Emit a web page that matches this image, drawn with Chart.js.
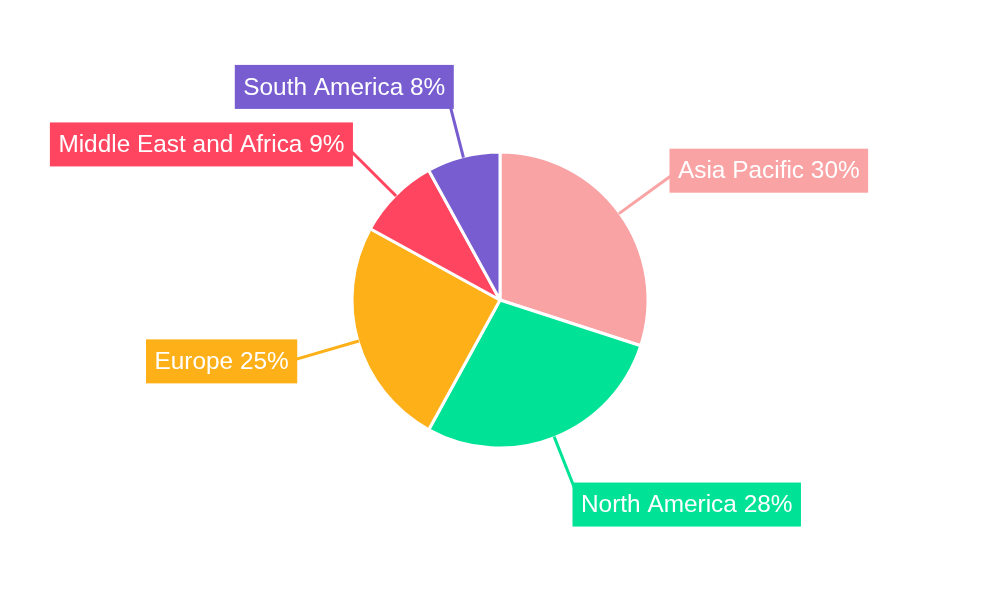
<!DOCTYPE html>
<html>
<head>
<meta charset="utf-8">
<script src="https://cdn.jsdelivr.net/npm/chart.js@4/dist/chart.umd.min.js"></script>
<style>
  html, body { margin: 0; padding: 0; background: #ffffff; }
  #wrap { width: 1000px; height: 600px; position: relative; }
</style>
</head>
<body>
<div id="wrap"><canvas id="c" width="1000" height="600"></canvas></div>
<script>
const regions = ['Asia Pacific', 'North America', 'Europe', 'Middle East and Africa', 'South America'];
const shares = [30, 28, 25, 9, 8];
const sliceColors = ['#F9A3A4', '#00E396', '#FEB019', '#FF4560', '#775DD0'];

const calloutPlugin = {
  id: 'callouts',
  afterDatasetsDraw(chart) {
    const ctx = chart.ctx;
    const meta = chart.getDatasetMeta(0);
    const data = chart.data.datasets[0].data;
    const labels = chart.data.labels;
    const colors = chart.data.datasets[0].backgroundColor;
    ctx.save();
    ctx.font = '24.4px "Liberation Sans", Arial, sans-serif';
    ctx.textBaseline = 'middle';
    const items = meta.data.map((arc, i) => {
      const p = arc.getProps(['x', 'y', 'startAngle', 'endAngle', 'outerRadius'], true);
      const mid = (p.startAngle + p.endAngle) / 2;
      const dx = Math.cos(mid), dy = Math.sin(mid);
      const r1 = p.outerRadius - 1;
      const r2 = p.outerRadius + 72;
      return {
        i, dx,
        x1: p.x + dx * r1, y1: p.y + dy * r1,
        x2: p.x + dx * r2, y2: p.y + dy * r2
      };
    });
    items.forEach(it => {
      ctx.strokeStyle = colors[it.i];
      ctx.lineWidth = 3;
      ctx.beginPath();
      ctx.moveTo(it.x1, it.y1);
      ctx.lineTo(it.x2, it.y2);
      ctx.stroke();
    });
    items.forEach(it => {
      const text = labels[it.i] + ' ' + data[it.i] + '%';
      const tw = ctx.measureText(text).width;
      const padX = 8.5, h = 44;
      const tx = it.dx >= 0 ? it.x2 : it.x2 - tw;
      const bx = tx - padX;
      const by = it.y2 - h / 2;
      ctx.fillStyle = colors[it.i];
      ctx.fillRect(bx, by, tw + padX * 2, h);
      ctx.fillStyle = '#ffffff';
      ctx.textAlign = 'left';
      ctx.fillText(text, tx, it.y2 + 1);
    });
    ctx.restore();
  }
};

new Chart(document.getElementById('c'), {
  type: 'pie',
  data: {
    labels: regions,
    datasets: [{
      data: shares,
      backgroundColor: sliceColors,
      borderColor: '#ffffff',
      borderWidth: 3,
      radius: 148
    }]
  },
  options: {
    responsive: false,
    animation: false,
    layout: { padding: 0 },
    plugins: {
      legend: { display: false },
      tooltip: { enabled: false }
    }
  },
  plugins: [calloutPlugin]
});
</script>
</body>
</html>
